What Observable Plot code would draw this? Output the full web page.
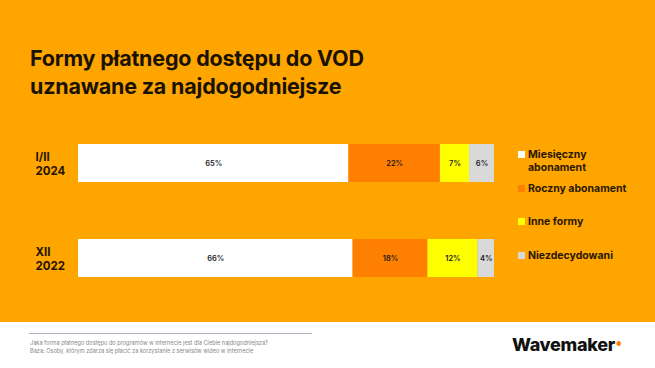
<!DOCTYPE html>
<html>
<head>
<meta charset="utf-8">
<script src="https://cdn.jsdelivr.net/npm/d3@7"></script>
<script src="https://cdn.jsdelivr.net/npm/@observablehq/plot@0.6"></script>
<style>
  html, body { margin: 0; padding: 0; }
  body { width: 655px; height: 368px; position: relative; overflow: hidden; background: #fff; font-family: Inter, "Noto Sans", sans-serif; }
  #bg { position: absolute; left: 0; top: 0; width: 655px; height: 322px; background: #FFA500; }
  #title { position: absolute; left: 30px; top: 44px; margin: 0; font-size: 21.5px; line-height: 28px; font-weight: 700; color: #1a1200; letter-spacing: -0.2px; }
  #chart { position: absolute; left: 0; top: 0; }
  #legend { position: absolute; left: 518px; top: 0; font-size: 10.5px; font-weight: 700; color: #2a1800; line-height: 13px; }
  .li { position: absolute; left: 0; white-space: nowrap; padding-left: 10px; }
  .sw { position: absolute; left: 0; top: 3px; width: 7px; height: 7px; }
  #rule { position: absolute; left: 29px; top: 333px; width: 283px; height: 1px; background: #b9b0c4; }
  #note { position: absolute; left: 30px; top: 340px; font-size: 5.6px; line-height: 7.5px; color: #888; white-space: nowrap; }
  #logo { position: absolute; left: 512px; top: 334px; font-size: 18px; font-weight: 800; color: #111; letter-spacing: -0.3px; }
  #logo span { color: #FF7F00; font-size: 6px; vertical-align: 5px; margin-left: 1px; }
</style>
</head>
<body>
<div id="bg"></div>
<h1 id="title">Formy płatnego dostępu do VOD<br>uznawane za najdogodniejsze</h1>
<div id="chart"></div>
<div id="legend"></div>
<div id="rule"></div>
<div id="note">Jaka forma płatnego dostępu do programów w internecie jest dla Ciebie najdogodniejsza?<br>Baza: Osoby, którym zdarza się płacić za korzystanie z serwisów wideo w internecie</div>
<div id="logo">Wavemaker<span>●</span></div>
<script>
const periods = ["I/II\n2024", "XII\n2022"];
const categories = ["Miesięczny abonament", "Roczny abonament", "Inne formy", "Niezdecydowani"];
const colors = ["#FFFFFF", "#FF8000", "#FFFF00", "#D9D9D9"];
const values2024 = [65, 22, 7, 6];
const values2022 = [66, 18, 12, 4];

const data = [];
categories.forEach((c, i) => {
  data.push({period: periods[0], category: c, value: values2024[i]});
  data.push({period: periods[1], category: c, value: values2022[i]});
});

const chart = Plot.plot({
  width: 655,
  height: 322,
  marginLeft: 78,
  marginRight: 161,
  marginTop: 124,
  marginBottom: 26,
  style: {background: "transparent", fontFamily: "Inter, 'Noto Sans', sans-serif"},
  x: {domain: [0, 100], axis: null},
  y: {domain: periods, paddingInner: 0.6, paddingOuter: 0.2, label: null},
  color: {domain: categories, range: colors},
  marks: [
    Plot.barX(data, Plot.stackX({x: "value", y: "period", fill: "category", order: categories})),
    Plot.text(data, Plot.stackX({x: "value", y: "period", z: "category", order: categories,
      text: d => d.value + "%", fill: "#1a1a1a", fontSize: 7.5, fontWeight: 600})),
    Plot.axisY({tickSize: 0, tickPadding: 0, textAnchor: "start", dx: -43, fontSize: 11.5, fontWeight: 700,
      fill: "#1f1400", lineHeight: 1.25, label: null})
  ]
});
document.getElementById("chart").appendChild(chart);

const legendTops = [148, 182, 215, 249];
const legend = document.getElementById("legend");
categories.forEach((c, i) => {
  const d = document.createElement("div");
  d.className = "li";
  d.style.top = legendTops[i] + "px";
  const label = i === 0 ? "Miesięczny<br>abonament" : c;
  d.innerHTML = `<div class="sw" style="background:${colors[i]}"></div>${label}`;
  legend.appendChild(d);
});
</script>
</body>
</html>
